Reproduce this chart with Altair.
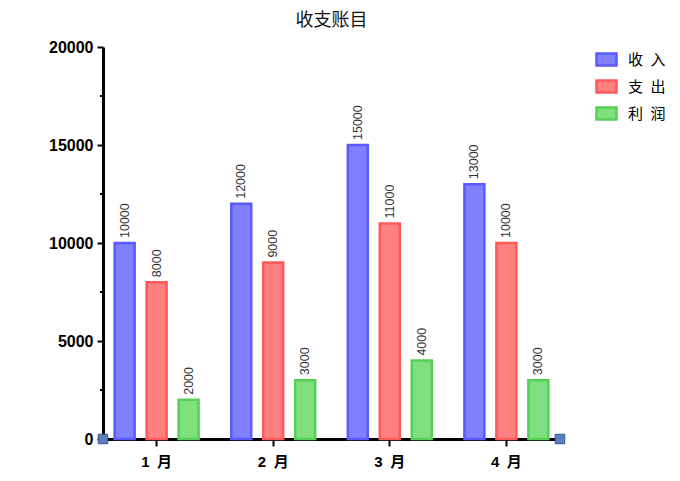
import altair as alt
import pandas as pd

months = ["1\u2002月", "2\u2002月", "3\u2002月", "4\u2002月"]
series = ["收\u2002入", "支\u2002出", "利\u2002润"]
income = [10000, 12000, 15000, 13000]
expense = [8000, 9000, 11000, 10000]
profit = [2000, 3000, 4000, 3000]
fill_colors = ["#8080ff", "#ff8080", "#80e080"]
stroke_colors = ["#5a5aff", "#ff5a5a", "#55d055"]
major_ticks = [0, 5000, 10000, 15000, 20000]
minor_ticks = [2500, 7500, 12500, 17500]

rows = []
for s, vals in zip(series, [income, expense, profit]):
    for m, v in zip(months, vals):
        rows.append({"month": m, "series": s, "value": v})
df = pd.DataFrame(rows)

x_enc = alt.X(
    "month:N", sort=months,
    scale=alt.Scale(paddingInner=0.28, paddingOuter=0.1),
    axis=alt.Axis(title=None, labelAngle=0, labelFont="Liberation Sans, Noto Sans CJK SC", labelFontSize=15,
                  labelFontWeight="bold", labelColor="#000", labelPadding=8,
                  domainColor="#000", domainWidth=3, tickColor="#000", tickWidth=2, tickSize=7),
)
xo_enc = alt.XOffset("series:N", sort=series, scale=alt.Scale(paddingInner=0.375, paddingOuter=0))
y_enc = alt.Y(
    "value:Q", scale=alt.Scale(domain=[0, 20000], nice=False),
    axis=alt.Axis(title=None, values=major_ticks, format="d", grid=False, labelFont="Liberation Sans",
                  labelFontSize=16, labelFontWeight="bold", labelColor="#000", labelPadding=4,
                  domainColor="#000", domainWidth=3, tickColor="#000", tickWidth=2, tickSize=6),
)

base = alt.Chart(df)
bars = base.mark_bar(strokeWidth=2.5).encode(
    x=x_enc, xOffset=xo_enc, y=y_enc,
    fill=alt.Fill("series:N", sort=series, scale=alt.Scale(domain=series, range=fill_colors),
                  legend=alt.Legend(title=None, orient="none", legendX=492, legendY=1,
                                    symbolType="M-1,-0.6H1V0.6H-1Z", symbolSize=400,
                                    symbolStrokeWidth=2.5, labelFont="Noto Sans CJK SC",
                                    labelFontSize=15, labelColor="#000", rowPadding=4, labelOffset=10)),
    stroke=alt.Stroke("series:N", sort=series, scale=alt.Scale(domain=series, range=stroke_colors)),
)
labels = base.mark_text(angle=270, align="left", baseline="middle", dx=5,
                        font="Liberation Sans", fontSize=12.5, color="#333").encode(
    x=alt.X("month:N", sort=months), xOffset=alt.XOffset("series:N", sort=series),
    y="value:Q", text="value:Q",
)
minor = alt.Chart(pd.DataFrame({"v": minor_ticks})).mark_rule(color="#000", strokeWidth=2).encode(
    x=alt.value(-3), x2=alt.value(0), y="v:Q"
)
sq_df = pd.DataFrame({"k": [0]})
sq1 = alt.Chart(sq_df).mark_square(size=90, fill="#5b7fc0", stroke="#34558f", strokeWidth=1, opacity=1).encode(
    x=alt.value(0), y=alt.value(392)
)
sq2 = alt.Chart(sq_df).mark_square(size=90, fill="#5b7fc0", stroke="#34558f", strokeWidth=1, opacity=1).encode(
    x=alt.value(457), y=alt.value(392)
)

chart = alt.layer(bars, labels, minor, sq1, sq2).properties(
    width=457, height=392,
    title=alt.Title("收支账目", font="Noto Sans CJK SC", fontSize=18, fontWeight="normal",
                    color="#111", anchor="middle", offset=9),
    autosize=alt.AutoSizeParams(type="none"),
    padding={"left": 95, "top": 39, "right": 112, "bottom": 34},
).configure_view(stroke=None)

chart.save("out.html", embed_options={"renderer": "svg", "actions": False})
